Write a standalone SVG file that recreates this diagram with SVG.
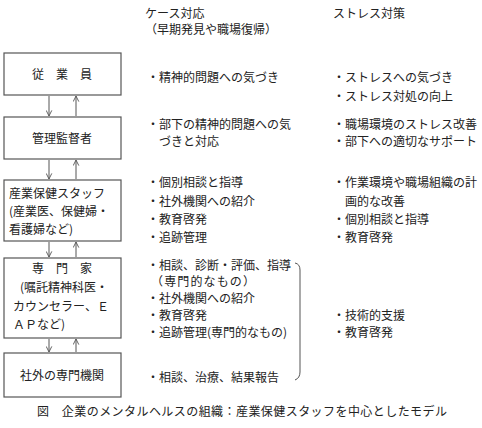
<svg xmlns="http://www.w3.org/2000/svg" width="482" height="428" viewBox="0 0 482 428">
<defs>
<style>
text{font-family:"Noto Sans CJK JP","Noto Sans CJK SC",sans-serif;font-size:12px;fill:#222}
.box{fill:#fff;stroke:#555;stroke-width:1.2}
.c{text-anchor:middle}
.arr{stroke:#555;stroke-width:1;fill:none;marker-end:url(#ah)}
</style>
<marker id="ah" viewBox="0 0 10 10" refX="9" refY="5" markerWidth="7" markerHeight="7" markerUnits="userSpaceOnUse" orient="auto">
<path d="M1,1 L9,5 L1,9" fill="none" stroke="#555" stroke-width="1.3"/>
</marker>
</defs>
<rect width="482" height="428" fill="#fff"/>

<g id="headers">
<text x="145" y="17.5">ケース対応</text>
<text x="145" y="33.5">（早期発見や職場復帰）</text>
<text x="333" y="17.5">ストレス対策</text>
</g>

<g id="node-employee">
<rect class="box" x="4" y="53" width="117" height="42"/>
<text class="c" x="62" y="78.5">従　業　員</text>
</g>
<g id="node-manager">
<rect class="box" x="4" y="117" width="117" height="42"/>
<text class="c" x="62" y="142.5">管理監督者</text>
</g>
<g id="node-staff">
<rect class="box" x="4" y="180" width="117" height="61"/>
<text x="9" y="197.5">産業保健スタッフ</text>
<text x="9" y="215.5">(産業医、保健婦・</text>
<text x="9" y="233.5">看護婦など)</text>
</g>
<g id="node-expert">
<rect class="box" x="4" y="258" width="117" height="80"/>
<text class="c" x="62" y="272.5">専　門　家</text>
<text x="20" y="291.5">(嘱託精神科医・</text>
<text x="13" y="310.5">カウンセラー、Ｅ</text>
<text x="13" y="328.5">ＡＰなど)</text>
</g>
<g id="node-external">
<rect class="box" x="4" y="353" width="117" height="44"/>
<text class="c" x="62" y="379.5">社外の専門機関</text>
</g>

<g id="connectors">
<line class="arr" x1="49" y1="96" x2="49" y2="116"/>
<line class="arr" x1="76" y1="116" x2="76" y2="96"/>
<line class="arr" x1="49" y1="160" x2="49" y2="179"/>
<line class="arr" x1="76" y1="179" x2="76" y2="160"/>
<line class="arr" x1="49" y1="242" x2="49" y2="257"/>
<line class="arr" x1="76" y1="257" x2="76" y2="242"/>
<line class="arr" x1="49" y1="339" x2="49" y2="352"/>
<line class="arr" x1="76" y1="352" x2="76" y2="339"/>
</g>

<g id="case-column">
<text x="147" y="81.5">・精神的問題への気づき</text>
<text x="147" y="128.5">・部下の精神的問題への気</text>
<text x="159" y="146">づきと対応</text>
<text x="147" y="186.5">・個別相談と指導</text>
<text x="147" y="206">・社外機関への紹介</text>
<text x="147" y="224">・教育啓発</text>
<text x="147" y="241.5">・追跡管理</text>
<text x="147" y="269.5">・相談、診断・評価、指導</text>
<text x="151" y="285.5" textLength="104" lengthAdjust="spacing">（専門的なもの）</text>
<text x="147" y="302.5">・社外機関への紹介</text>
<text x="147" y="319.5">・教育啓発</text>
<text x="147" y="336.5">・追跡管理(専門的なもの)</text>
<text x="147" y="381.5">・相談、治療、結果報告</text>
<path d="M295,263 Q300,264 300,270 L300,372 Q300,378 295,380" fill="none" stroke="#555" stroke-width="1"/>
</g>

<g id="stress-column">
<text x="333" y="81.5">・ストレスへの気づき</text>
<text x="333" y="101">・ストレス対処の向上</text>
<text x="333" y="128.5">・職場環境のストレス改善</text>
<text x="333" y="146">・部下への適切なサポート</text>
<text x="333" y="186.5">・作業環境や職場組織の計</text>
<text x="345" y="206">画的な改善</text>
<text x="333" y="224">・個別相談と指導</text>
<text x="333" y="241.5">・教育啓発</text>
<text x="333" y="319.5">・技術的支援</text>
<text x="333" y="336.5">・教育啓発</text>
</g>

<g id="caption">
<text x="37" y="416" textLength="410" lengthAdjust="spacing">図　企業のメンタルヘルスの組織：産業保健スタッフを中心としたモデル</text>
</g>
</svg>
